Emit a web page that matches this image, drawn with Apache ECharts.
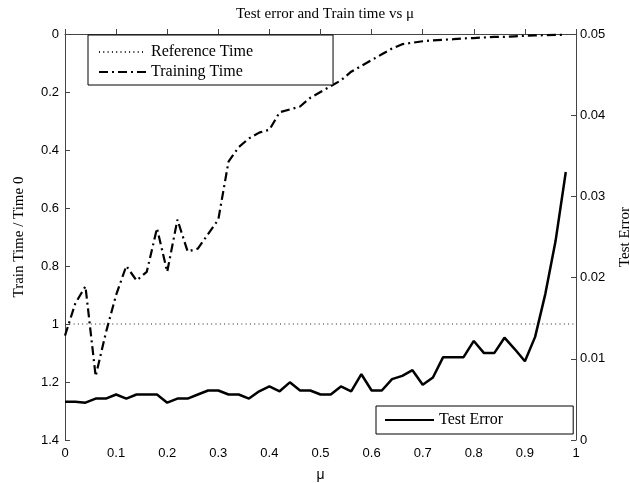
<!DOCTYPE html>
<html>
<head>
<meta charset="UTF-8">
<title>Test error and Train time vs mu</title>
<script src="https://cdn.jsdelivr.net/npm/echarts@6/dist/echarts.min.js"></script>
<style>
  html, body { margin: 0; padding: 0; background: #fff; }
  #chart { width: 629px; height: 483px; }
</style>
</head>
<body>
<div id="chart"></div>
<script>
// mu values (x)
var mu = [0, 0.02, 0.04, 0.06, 0.08, 0.10, 0.12, 0.14, 0.16, 0.18,
          0.20, 0.22, 0.24, 0.26, 0.28, 0.30, 0.32, 0.34, 0.36, 0.38,
          0.40, 0.42, 0.44, 0.46, 0.48, 0.50, 0.52, 0.54, 0.56, 0.58,
          0.60, 0.62, 0.64, 0.66, 0.68, 0.70, 0.72, 0.74, 0.76, 0.78,
          0.80, 0.82, 0.84, 0.86, 0.88, 0.90, 0.92, 0.94, 0.96, 0.98];

// train time / time 0 (left axis, reversed)
var trainTime = [1.04, 0.93, 0.87, 1.18, 1.03, 0.90, 0.80, 0.85, 0.82, 0.67,
                 0.82, 0.64, 0.75, 0.74, 0.69, 0.64, 0.44, 0.39, 0.36, 0.34,
                 0.33, 0.27, 0.26, 0.25, 0.22, 0.20, 0.18, 0.16, 0.13, 0.11,
                 0.09, 0.07, 0.05, 0.035, 0.03, 0.025, 0.022, 0.02, 0.018, 0.015,
                 0.014, 0.012, 0.01, 0.01, 0.008, 0.006, 0.005, 0.004, 0.003, 0.003];

// test error (right axis)
var testError = [0.0047, 0.0047, 0.0046, 0.0051, 0.0051, 0.0056, 0.0051, 0.0056, 0.0056, 0.0056,
                 0.0046, 0.0051, 0.0051, 0.0056, 0.0061, 0.0061, 0.0056, 0.0056, 0.0051, 0.0060,
                 0.0066, 0.0060, 0.0071, 0.0061, 0.0061, 0.0056, 0.0056, 0.0066, 0.0060, 0.0081,
                 0.0061, 0.0061, 0.0075, 0.0079, 0.0086, 0.0068, 0.0077, 0.0102, 0.0102, 0.0102,
                 0.0122, 0.0107, 0.0107, 0.0126, 0.0112, 0.0097, 0.0127, 0.0180, 0.0245, 0.0330];

// reference time level
var refMu = [0, 1];
var refTime = [1, 1];

var xTicks = ['0', '0.1', '0.2', '0.3', '0.4', '0.5', '0.6', '0.7', '0.8', '0.9', '1'];

function pairs(xs, ys) {
    return xs.map(function (x, i) { return [x, ys[i]]; });
}

var serif = 'Liberation Serif';
var sans = 'Liberation Sans';
var axisCol = '#444';

var chart = echarts.init(document.getElementById('chart'));

var option = {
    backgroundColor: '#fff',
    animation: false,
    title: {
        text: 'Test error and Train time vs μ',
        left: 320,
        textAlign: 'center',
        top: 2,
        textStyle: { fontFamily: serif, fontSize: 15, fontWeight: 'normal', color: '#000' }
    },
    grid: { left: 65, right: 53, top: 34, bottom: 43, outerBoundsMode: 'none', containLabel: false },
    legend: [{
        data: ['Reference Time', 'Training Time'],
        orient: 'vertical',
        left: 88,
        top: 35,
        padding: [9, 80, 5, 10],
        itemWidth: 47,
        itemHeight: 16,
        itemGap: 4,
        borderColor: '#000',
        borderWidth: 1,
        backgroundColor: '#fff',
        selectedMode: false,
        itemStyle: { opacity: 0 },
        textStyle: { fontFamily: serif, fontSize: 16, color: '#000' }
    }, {
        data: ['Test Error'],
        orient: 'vertical',
        left: 376,
        top: 406,
        padding: [6, 70, 6, 8],
        itemWidth: 49,
        itemHeight: 16,
        borderColor: '#000',
        borderWidth: 1,
        backgroundColor: '#fff',
        selectedMode: false,
        itemStyle: { opacity: 0 },
        textStyle: { fontFamily: serif, fontSize: 16, color: '#000' }
    }],
    xAxis: {
        type: 'value',
        min: 0,
        max: 1,
        interval: 0.1,
        name: 'μ',
        nameLocation: 'middle',
        nameGap: 28,
        nameTextStyle: { fontFamily: sans, fontSize: 14, color: '#000' },
        axisLine: { lineStyle: { color: axisCol, width: 1 } },
        axisTick: { inside: true, length: 5, lineStyle: { color: axisCol } },
        axisLabel: {
            margin: 7, fontFamily: sans, fontSize: 13, color: '#000',
            formatter: function (v) { return xTicks[Math.round(v * 10)]; }
        },
        splitLine: { show: false }
    },
    yAxis: [{
        type: 'value',
        inverse: true,
        min: 0,
        max: 1.4,
        interval: 0.2,
        position: 'left',
        name: 'Train Time / Time 0',
        nameLocation: 'middle',
        nameRotate: 90,
        nameGap: 38,
        nameTextStyle: { fontFamily: serif, fontSize: 15, color: '#000' },
        axisLine: { show: true, lineStyle: { color: axisCol, width: 1 } },
        axisTick: { show: true, inside: true, length: 5, lineStyle: { color: axisCol } },
        axisLabel: { margin: 6, fontFamily: sans, fontSize: 13, color: '#000' },
        splitLine: { show: false }
    }, {
        type: 'value',
        min: 0,
        max: 0.05,
        interval: 0.01,
        position: 'right',
        name: 'Test Error',
        nameLocation: 'middle',
        nameRotate: 90,
        nameGap: 42,
        nameTextStyle: { fontFamily: serif, fontSize: 15, color: '#000' },
        axisLine: { show: true, lineStyle: { color: axisCol, width: 1 } },
        axisTick: { show: true, inside: true, length: 5, lineStyle: { color: axisCol } },
        axisLabel: { margin: 4, fontFamily: sans, fontSize: 13, color: '#000' },
        splitLine: { show: false }
    }],
    series: [{
        name: 'Reference Time',
        type: 'line',
        yAxisIndex: 0,
        symbol: 'none',
        data: pairs(refMu, refTime),
        lineStyle: { color: '#222', width: 1, type: [1, 3.3] },
        itemStyle: { color: '#222' }
    }, {
        name: 'Training Time',
        type: 'line',
        yAxisIndex: 0,
        symbol: 'none',
        data: pairs(mu, trainTime),
        lineStyle: { color: '#000', width: 2.2, type: [9, 4, 2, 4] },
        itemStyle: { color: '#000' }
    }, {
        name: 'Test Error',
        type: 'line',
        yAxisIndex: 1,
        symbol: 'none',
        data: pairs(mu, testError),
        lineStyle: { color: '#000', width: 2.5 },
        itemStyle: { color: '#000' }
    }]
};

chart.setOption(option);
</script>
</body>
</html>
